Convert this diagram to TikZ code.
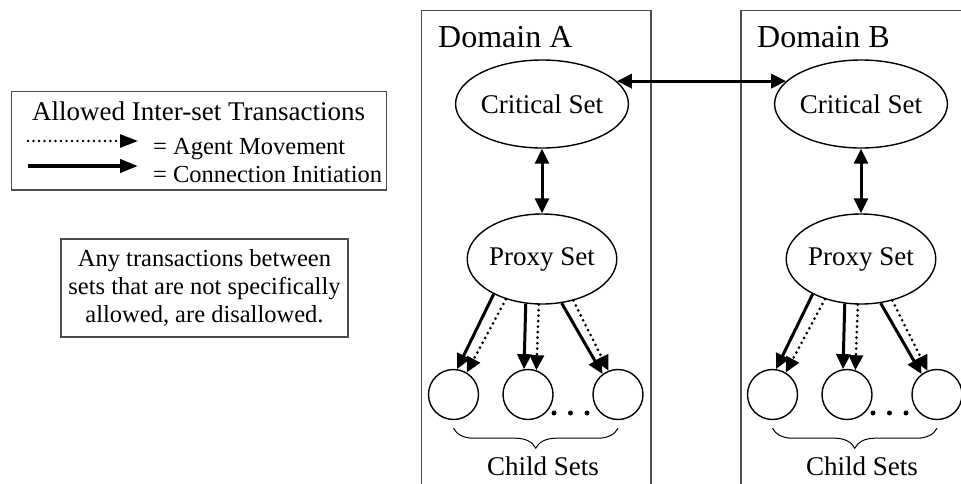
\documentclass[tikz,border=0pt]{standalone}
\usepackage{fontspec}
\setmainfont{Liberation Serif}
\usetikzlibrary{arrows.meta,shapes.geometric,decorations.pathreplacing}
\begin{document}
\begin{tikzpicture}[x=1pt,y=-1pt,
  >={Triangle[length=15pt,width=14pt]},
  boxline/.style={draw=black!70,line width=1.1pt},
  setnode/.style={ellipse,draw,line width=1.4pt,inner sep=0pt,font=\fontsize{27}{32}\selectfont},
  critset/.style={setnode,minimum width=148pt,minimum height=88pt},
  proxset/.style={setnode,minimum width=127pt,minimum height=90pt},
  childset/.style={circle,draw,line width=1.4pt,minimum size=50pt,inner sep=0pt},
  solidarrow/.style={->,line width=3pt},
  dotarrow/.style={->,line width=3pt,dash pattern=on 0pt off 5.5pt,line cap=round},
  dotmark/.style={circle,fill,inner sep=0pt,minimum size=5pt},
  domlabel/.style={anchor=base west,inner sep=0pt,font=\fontsize{32}{36}\selectfont},
  bigtext/.style={inner sep=0pt,font=\fontsize{27}{32}\selectfont},
  smalltext/.style={inner sep=0pt,font=\fontsize{24.5}{28}\selectfont},
  bracestyle/.style={line width=1pt,decorate,decoration={brace,amplitude=20pt,aspect=0.5}},
]
\clip (0,0) rectangle (961,483);

% Domain boxes (open at the bottom, B clipped at the right)
\draw[boxline] (421.7,490) -- (421.7,10.7) -- (651,10.7) -- (651,490);
\draw[boxline] (741,490) -- (741,10.7) -- (985,10.7) -- (985,490);
\node[domlabel] (domA) at (438,47) {Domain A};
\node[domlabel] (domB) at (757,47) {Domain B};

% Sets
\node[critset] (csA) at (542,104) {Critical Set};
\node[critset] (csB) at (861,104) {Critical Set};
\node[proxset] (psA) at (542,259) {Proxy Set};
\node[proxset] (psB) at (861,259) {Proxy Set};

\node[childset] (a1) at (453.5,394.5) {};
\node[childset] (a2) at (528,394.5) {};
\node[childset] (a3) at (618,394.5) {};
\node[childset] (b1) at (772.5,394.5) {};
\node[childset] (b2) at (847,394.5) {};
\node[childset] (b3) at (937,394.5) {};

\node[dotmark] (ad1) at (554,413) {};
\node[dotmark] (ad2) at (570.5,413) {};
\node[dotmark] (ad3) at (587,413) {};
\node[dotmark] (bd1) at (873,413) {};
\node[dotmark] (bd2) at (889.5,413) {};
\node[dotmark] (bd3) at (906,413) {};

% Connections between sets
\draw[<->,line width=3pt] (csA.17) -- (csB.163);
\draw[<->,line width=3pt] (csA.south) -- (psA.north);
\draw[<->,line width=3pt] (csB.south) -- (psB.north);

\foreach \p/\c in {psA/a,psB/b}{
  \draw[solidarrow] (\p.216) -- (\c1.82);
  \draw[dotarrow] (\p.228) -- (\c1.59);
  \draw[solidarrow] (\p.250) -- (\c2.99);
  \draw[dotarrow] (\p.266) -- (\c2.71);
  \draw[solidarrow] (\p.294) -- (\c3.127);
  \draw[dotarrow] (\p.307) -- (\c3.112);
}

% Braces and labels
\draw[bracestyle] ([yshift=-8pt]a3.south) -- ([yshift=-8pt]a1.south);
\draw[bracestyle] ([yshift=-8pt]b3.south) -- ([yshift=-8pt]b1.south);
\node[bigtext,anchor=base] (chA) at (543,475) {Child Sets};
\node[bigtext,anchor=base] (chB) at (862,475) {Child Sets};

% Legend
\draw[boxline] (11.7,91.7) rectangle (386.7,190);
\node[bigtext,anchor=base west] (lgT) at (32,120) {Allowed Inter-set Transactions};
\coordinate (lds) at (28,141);
\coordinate (lde) at (138,141);
\draw[dotarrow,line width=2.6pt,>={Triangle[length=18pt,width=13pt]}] (lds) -- (lde);
\node[smalltext,anchor=base west] (lgA) at (153,154) {= Agent Movement};
\coordinate (lss) at (28,166);
\coordinate (lse) at (138,166);
\draw[solidarrow,line width=4pt,>={Triangle[length=18pt,width=13pt]}] (lss) -- (lse);
\node[smalltext,anchor=base west] (lgC) at (153,182) {= Connection Initiation};

% Note
\node[draw=black!70,line width=1.1pt,minimum width=287pt,minimum height=98pt,
      align=center,inner sep=0pt,font=\fontsize{24.5}{28}\selectfont]
  (note) at (204.5,288) {Any transactions between\\sets that are not specifically\\allowed, are disallowed.};
\end{tikzpicture}
\end{document}
